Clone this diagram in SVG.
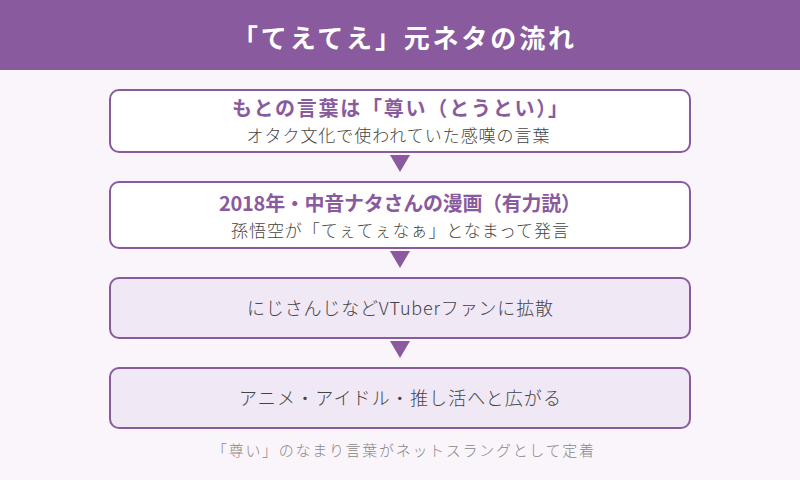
<svg xmlns="http://www.w3.org/2000/svg" width="800" height="480" viewBox="0 0 800 480">
<style>
text{font-family:"Noto Sans CJK JP","Noto Sans",sans-serif;text-anchor:middle;dominant-baseline:central}
.box{stroke:#8a5a9e;stroke-width:2}
.w{fill:#ffffff}
.l{fill:#f1e8f6}
.t{fill:#8a5a9e;font-weight:bold;font-size:20px}
.s{fill:#444444;font-size:17px;font-weight:300}
.m{fill:#444444;font-size:18px;font-weight:300}
.arr{fill:#8a5a9e}
</style>
<rect width="800" height="480" fill="#faf5fa"/>
<g id="header">
<rect x="0" y="0" width="800" height="70" fill="#8a5a9e"/>
<text x="403" y="36" fill="#ffffff" font-size="26" font-weight="bold" textLength="342" lengthAdjust="spacing">「てえてえ」元ネタの流れ</text>
</g>
<g id="connectors">
<polygon class="arr" points="390,155 410,155 400,172"/>
<polygon class="arr" points="390,251 410,251 400,268"/>
<polygon class="arr" points="390,341 410,341 400,358"/>
</g>
<g id="node1">
<rect class="box w" x="110" y="90" width="580" height="62" rx="9"/>
<text class="t" x="400" y="107" textLength="336" lengthAdjust="spacing">もとの言葉は「尊い（とうとい）」</text>
<text class="s" x="398" y="134" textLength="303" lengthAdjust="spacing">オタク文化で使われていた感嘆の言葉</text>
</g>
<g id="node2">
<rect class="box w" x="110" y="182" width="580" height="66" rx="9"/>
<text class="t" x="400" y="202" textLength="362" lengthAdjust="spacing">2018年・中音ナタさんの漫画（有力説）</text>
<text class="s" x="400" y="229" textLength="338" lengthAdjust="spacing">孫悟空が「てぇてぇなぁ」となまって発言</text>
</g>
<g id="node3">
<rect class="box l" x="110" y="278" width="580" height="60" rx="9"/>
<text class="m" x="400" y="307" textLength="306" lengthAdjust="spacing">にじさんじなどVTuberファンに拡散</text>
</g>
<g id="node4">
<rect class="box l" x="110" y="368" width="580" height="60" rx="9"/>
<text class="m" x="400" y="397" textLength="322" lengthAdjust="spacing">アニメ・アイドル・推し活へと広がる</text>
</g>
<text x="403" y="449" fill="#888888" font-size="15" font-weight="300" textLength="382" lengthAdjust="spacing">「尊い」のなまり言葉がネットスラングとして定着</text>
</svg>
